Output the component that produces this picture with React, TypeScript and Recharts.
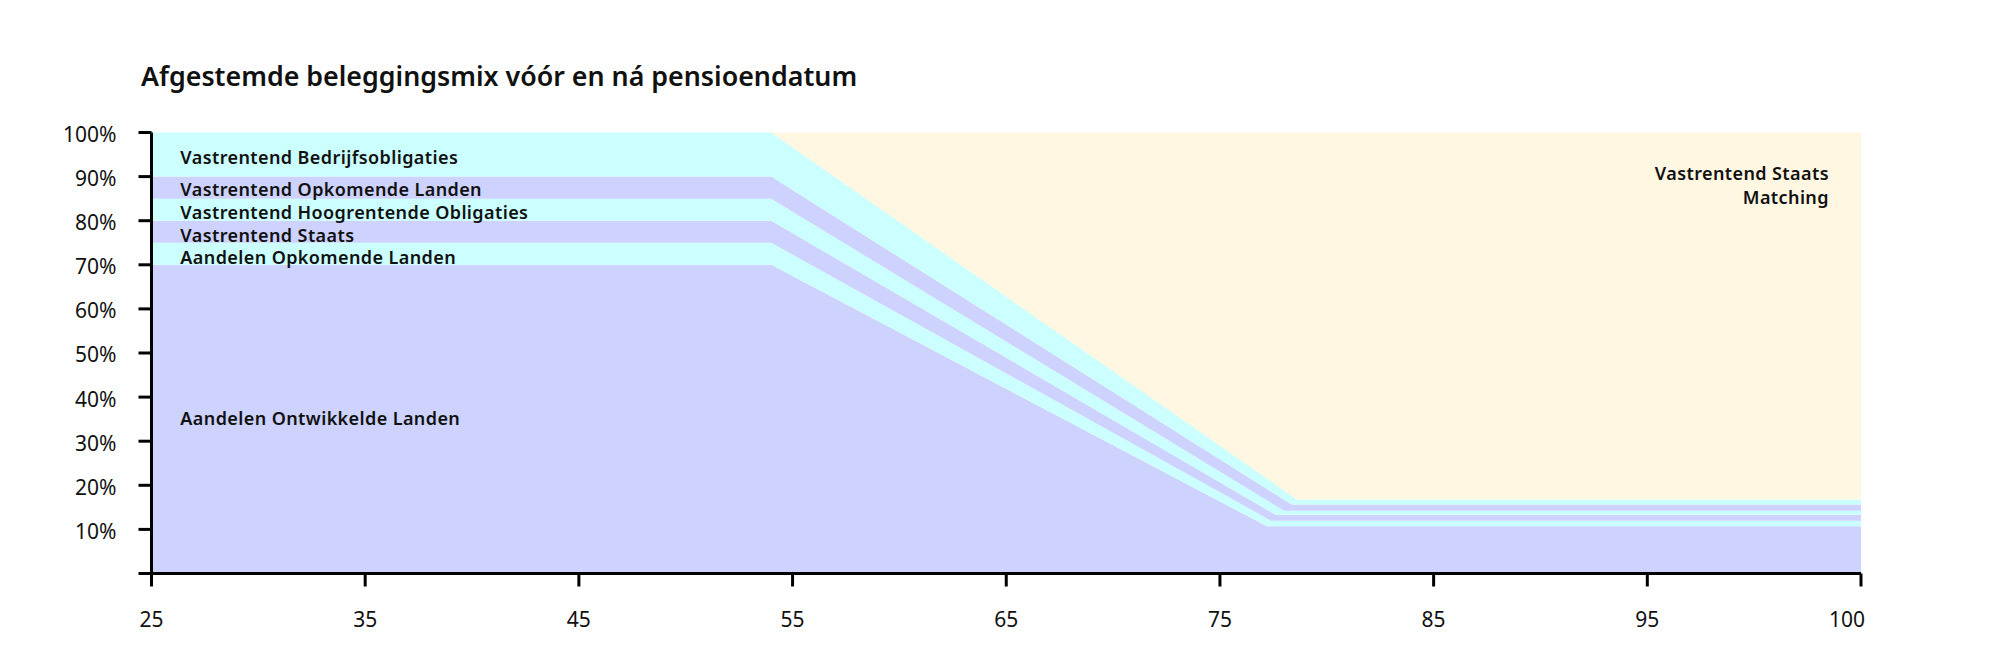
import React from 'react';
import { AreaChart, Area, XAxis, YAxis, ReferenceDot } from 'recharts';

// Ages (x positions of the data points)
const ages = [25, 54, 77.2, 77.4, 77.6, 78, 78.35, 78.6, 105];

// Series values in % (stacked from bottom to top)
const aandelenOntwikkeld = [70, 70, 10.7, 10.7, 10.7, 10.7, 10.7, 10.7, 10.7];
const aandelenOpkomend = [5, 5, 1.8, 1.26, 1.26, 1.26, 1.26, 1.26, 1.26];
const vastStaats = [5, 5, 1.96, 1.94, 1.37, 1.37, 1.37, 1.37, 1.37];
const vastHoogrentend = [5, 5, 2.13, 2.1, 2.08, 0.9, 0.9, 0.9, 0.9];
const vastOpkomend = [5, 5, 2.58, 2.56, 2.54, 2.5, 1.43, 1.43, 1.43];
const vastBedrijf = [10, 10, 2.36, 2.3, 2.23, 2.1, 1.99, 1.14, 1.14];
const vastStaatsMatching = [0, 0, 78.47, 79.14, 79.82, 81.17, 82.35, 83.2, 83.2];

// Axis ticks
const xTicks = [25, 35, 45, 55, 65, 75, 85, 95, 105];
const xTickLabels = ['25', '35', '45', '55', '65', '75', '85', '95', '100'];
const yTicks = [0, 10, 20, 30, 40, 50, 60, 70, 80, 90, 100];
const yTickLabels = ['', '10%', '20%', '30%', '40%', '50%', '60%', '70%', '80%', '90%', '100%'];

const TITLE = 'Afgestemde beleggingsmix vóór en ná pensioendatum';

// In-chart series labels: text, x (age), y (%)
const leftLabels = [
  { text: 'Vastrentend Bedrijfsobligaties', x: 26.35, y: 94.24 },
  { text: 'Vastrentend Opkomende Landen', x: 26.35, y: 87.07 },
  { text: 'Vastrentend Hoogrentende Obligaties', x: 26.35, y: 81.93 },
  { text: 'Vastrentend Staats', x: 26.35, y: 76.71 },
  { text: 'Aandelen Opkomende Landen', x: 26.35, y: 71.56 },
  { text: 'Aandelen Ontwikkelde Landen', x: 26.35, y: 35.06 },
];
const rightLabels = [
  { text: 'Vastrentend Staats', x: 103.5, y: 90.75 },
  { text: 'Matching', x: 103.5, y: 85.26 },
];

const CYAN = '#CCFFFF';
const PURPLE = '#CDD3FE';
const CREAM = '#FFF7E1';
const FONT = '"Noto Sans", sans-serif';

const series = [
  { key: 'aandelenOntwikkeld', values: aandelenOntwikkeld, color: PURPLE },
  { key: 'aandelenOpkomend', values: aandelenOpkomend, color: CYAN },
  { key: 'vastStaats', values: vastStaats, color: PURPLE },
  { key: 'vastHoogrentend', values: vastHoogrentend, color: CYAN },
  { key: 'vastOpkomend', values: vastOpkomend, color: PURPLE },
  { key: 'vastBedrijf', values: vastBedrijf, color: CYAN },
  { key: 'vastStaatsMatching', values: vastStaatsMatching, color: CREAM },
];

const data = ages.map((age, i) => {
  const row: Record<string, number> = { age };
  series.forEach((s) => {
    row[s.key] = s.values[i];
  });
  return row;
});

const labelStyle = {
  fill: '#111',
  fontSize: 18,
  fontWeight: 600,
  fontFamily: FONT,
  letterSpacing: 0.4,
};

const XTick = (props: any) => {
  const { x, y, payload } = props;
  const idx = xTicks.indexOf(payload.value);
  const isLast = idx === xTicks.length - 1;
  return (
    <text
      x={isLast ? x + 4 : x}
      y={y}
      dy="0.71em"
      textAnchor={isLast ? 'end' : 'middle'}
      fill="#111"
      fontSize={21}
      fontFamily={FONT}
    >
      {xTickLabels[idx]}
    </text>
  );
};

const YTick = (props: any) => {
  const { x, y, payload } = props;
  const idx = yTicks.indexOf(payload.value);
  return (
    <text
      x={x}
      y={y + 2}
      dy="0.355em"
      textAnchor="end"
      fill="#111"
      fontSize={21}
      fontFamily={FONT}
    >
      {yTickLabels[idx]}
    </text>
  );
};

export default function App() {
  return (
    <div
      style={{
        position: 'relative',
        width: 1981,
        height: 680,
        background: '#fff',
        boxShadow: '0 0 8px rgba(0,0,0,0.22)',
        outline: '1px solid #e6e6e6',
        fontFamily: FONT,
      }}
    >
      <div
        style={{
          position: 'absolute',
          left: 133,
          top: 55,
          fontSize: 26.8,
          lineHeight: 1,
          fontWeight: 600,
          color: '#111',
          whiteSpace: 'nowrap',
        }}
      >
        {TITLE}
      </div>
      <AreaChart
        width={1981}
        height={660}
        data={data}
        margin={{ top: 124.5, right: 128, bottom: 34.5, left: 43.5 }}
      >
        <XAxis
          dataKey="age"
          type="number"
          domain={[25, 105]}
          ticks={xTicks}
          height={60}
          tickSize={13}
          tickMargin={26}
          axisLine={{ stroke: '#000', strokeWidth: 3 }}
          tickLine={{ stroke: '#000', strokeWidth: 3 }}
          tick={<XTick />}
          interval={0}
        />
        <YAxis
          type="number"
          domain={[0, 100]}
          ticks={yTicks}
          width={100}
          tickSize={13}
          tickMargin={22}
          axisLine={{ stroke: '#000', strokeWidth: 3 }}
          tickLine={{ stroke: '#000', strokeWidth: 3 }}
          tick={<YTick />}
          interval={0}
        />
        {series.map((s) => (
          <Area
            key={s.key}
            dataKey={s.key}
            stackId="mix"
            type="linear"
            stroke="none"
            fill={s.color}
            fillOpacity={1}
            isAnimationActive={false}
            dot={false}
            activeDot={false}
          />
        ))}
        {leftLabels.map((l) => (
          <ReferenceDot
            key={'l' + l.text + l.y}
            x={l.x}
            y={l.y}
            r={0}
            fill="none"
            stroke="none"
            label={{ value: l.text, position: 'right', offset: 0, ...labelStyle }}
          />
        ))}
        {rightLabels.map((l) => (
          <ReferenceDot
            key={'r' + l.text + l.y}
            x={l.x}
            y={l.y}
            r={0}
            fill="none"
            stroke="none"
            label={{ value: l.text, position: 'left', offset: 0, ...labelStyle }}
          />
        ))}
      </AreaChart>
    </div>
  );
}
